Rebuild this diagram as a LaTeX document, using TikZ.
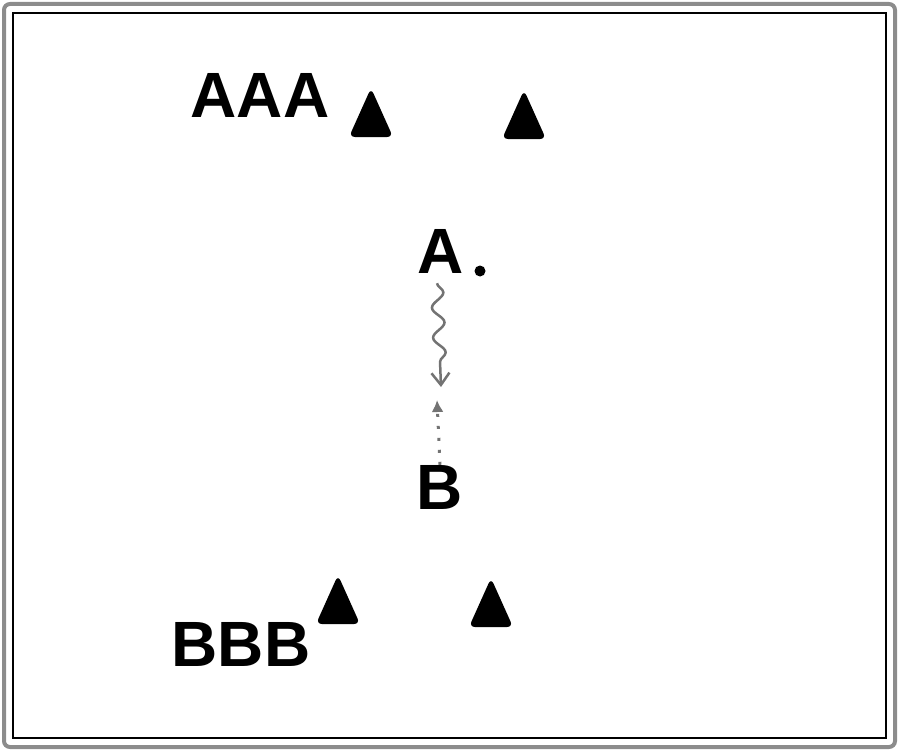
\documentclass[tikz,border=0pt]{standalone}
\usepackage{fontspec}
\setmainfont{Liberation Sans}
\usepackage{tikz}
\usetikzlibrary{arrows.meta}
\usetikzlibrary{decorations.pathmorphing}
\tikzstyle{letters}=[inner sep=0pt, font=\fontsize{64}{70}\selectfont\bfseries]
\tikzstyle{wavy}=[draw=black!55, line width=2.5pt, decorate, decoration={snake, amplitude=6pt, segment length=30pt, post length=16pt}]
\tikzstyle{dots}=[draw=black!55, line width=3pt, dash pattern=on 3pt off 9pt]
\tikzset{mark triangle/.pic={\fill[rounded corners=6pt] (-22,24) -- (0,-25) -- (22,24) -- cycle;}}

\begin{document}
\begin{tikzpicture}[x=1pt, y=-1pt]
        \useasboundingbox (0,0) rectangle (900,752);
        % frame
        \draw[black!45, line width=4pt, rounded corners=6pt] (4,4) rectangle (895,747);
        \draw[line width=1.3pt] (13,13) rectangle (886,738);
        % top row
        \node[letters]                 (AAA) at (260, 95) {AAA};
        \pic                           (T1) at (371, 113) {mark triangle};
        \pic                           (T2) at (524, 115) {mark triangle};
        % middle
        \node[letters]                 (A) at (441, 251) {A};
        \fill                          (480, 271) circle (5.5pt);
        \coordinate                    (Aend) at (441, 387);
        \coordinate                    (Bend) at (437, 400);
        \node[letters]                 (B) at (440, 487) {B};
        \draw[wavy, -{Straight Barb[length=12pt, width=18pt]}] (A.south) ++(-4,10) -- (Aend);
        \draw[dots, -{Latex[length=12pt, width=12pt]}] (B.north) -- (Bend);
        % bottom row
        \pic                           (T3) at (338, 600) {mark triangle};
        \pic                           (T4) at (491, 603) {mark triangle};
        \node[letters]                 (BBB) at (241, 644) {BBB};
    \end{tikzpicture}
\end{document}
